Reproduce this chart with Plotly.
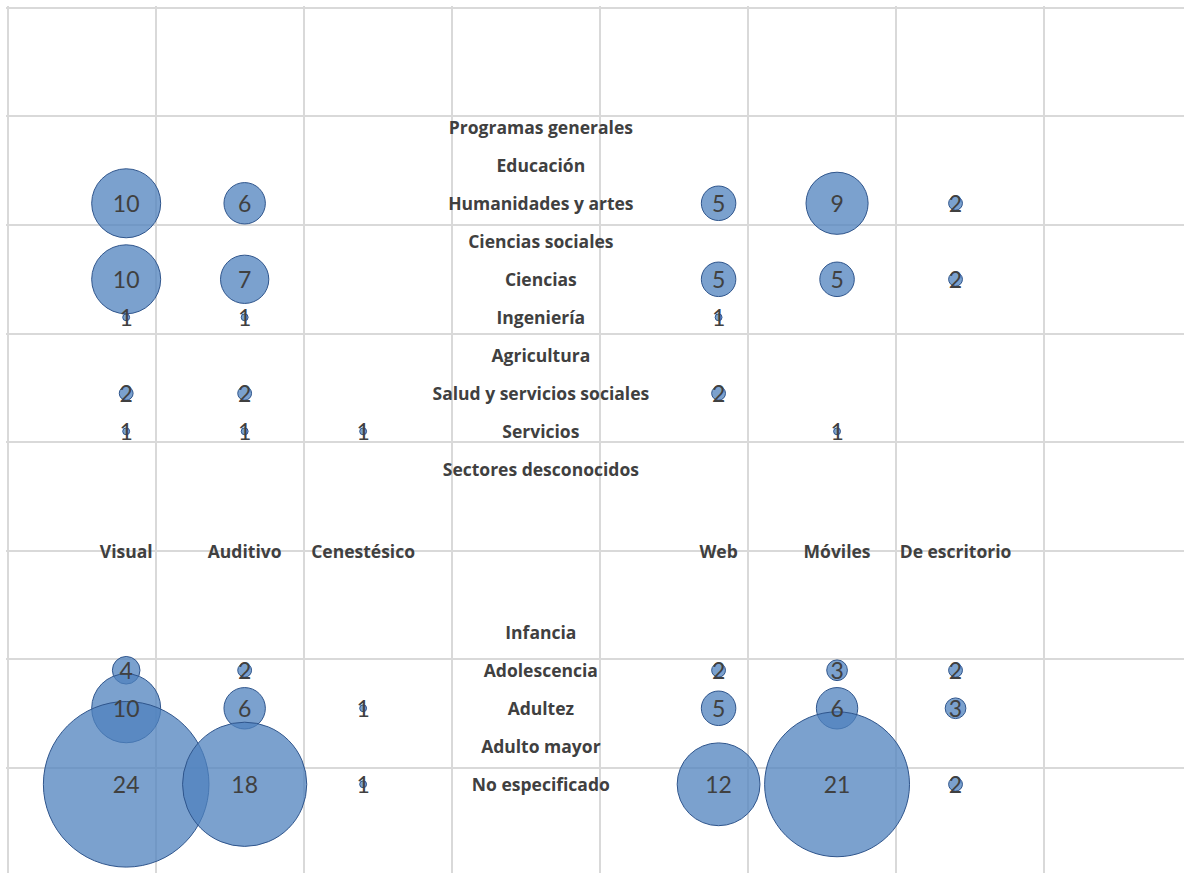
import plotly.graph_objects as go

# Column categories (learning style / platform)
columns = ["Visual", "Auditivo", "Cenestésico", "Web", "Móviles", "De escritorio"]

# Row categories
sectors = [
    "Programas generales", "Educación", "Humanidades y artes", "Ciencias sociales",
    "Ciencias", "Ingeniería", "Agricultura", "Salud y servicios sociales",
    "Servicios", "Sectores desconocidos",
]
ages = ["Infancia", "Adolescencia", "Adultez", "Adulto mayor", "No especificado"]

# Counts per sector, one list per column (0 = no bubble)
visual_sector = [0, 0, 10, 0, 10, 1, 0, 2, 1, 0]
auditivo_sector = [0, 0, 6, 0, 7, 1, 0, 2, 1, 0]
cenestesico_sector = [0, 0, 0, 0, 0, 0, 0, 0, 1, 0]
web_sector = [0, 0, 5, 0, 5, 1, 0, 2, 0, 0]
moviles_sector = [0, 0, 9, 0, 5, 0, 0, 0, 1, 0]
escritorio_sector = [0, 0, 2, 0, 2, 0, 0, 0, 0, 0]

# Counts per age group, one list per column
visual_age = [0, 4, 10, 0, 24]
auditivo_age = [0, 2, 6, 0, 18]
cenestesico_age = [0, 0, 1, 0, 1]
web_age = [0, 2, 5, 0, 12]
moviles_age = [0, 3, 6, 0, 21]
escritorio_age = [0, 2, 3, 0, 2]

sector_counts = [visual_sector, auditivo_sector, cenestesico_sector,
                 web_sector, moviles_sector, escritorio_sector]
age_counts = [visual_age, auditivo_age, cenestesico_age,
              web_age, moviles_age, escritorio_age]

# Layout of the grid in axis units
COL_STEP = 0.8
ROW_STEP = 0.35
SECTOR_TOP = 6.9
AGE_TOP = 2.25
HEADER_Y = 3.0
LABEL_SLOT = 4.5

W, H = 1184, 873
PX_X = 148.1
PX_Y = 108.6
X0_PX, Y8_PX = 7.7, 7.8          # pixel position of x=0 and y=8
TEXT_DROP = 2.5 / PX_Y            # nudge text baseline down a touch


def col_x(i):
    slot = i + 1 if i < 3 else i + 3
    return slot * COL_STEP


sector_y = [SECTOR_TOP - ROW_STEP * k for k in range(len(sectors))]
age_y = [AGE_TOP - ROW_STEP * k for k in range(len(ages))]

bx, by, bv = [], [], []
for ci in range(len(columns)):
    for ri, v in enumerate(sector_counts[ci]):
        if v:
            bx.append(col_x(ci)); by.append(sector_y[ri]); bv.append(v)
    for ri, v in enumerate(age_counts[ci]):
        if v:
            bx.append(col_x(ci)); by.append(age_y[ri]); bv.append(v)

TEXT = "#404040"
NUM_FONT = "Lato, 'Open Sans', sans-serif"
LABEL_FONT = "'Open Sans', Lato, sans-serif"

fig = go.Figure()

# Bubbles (diameter proportional to count)
fig.add_trace(go.Scatter(
    x=bx, y=by, mode="markers",
    marker=dict(
        size=bv, sizemode="diameter", sizeref=1 / 6.9, opacity=1,
        color="rgba(79,129,189,0.75)",
        line=dict(color="rgb(47,85,140)", width=1),
    ),
    hoverinfo="skip", showlegend=False,
))

# Count labels on the bubbles
fig.add_trace(go.Scatter(
    x=bx, y=[y - TEXT_DROP for y in by], mode="text",
    text=[str(v) for v in bv], textposition="middle center",
    textfont=dict(family=NUM_FONT, size=23, color=TEXT),
    hoverinfo="skip", showlegend=False,
))

# Row labels in the middle column
label_x = LABEL_SLOT * COL_STEP
fig.add_trace(go.Scatter(
    x=[label_x] * (len(sectors) + len(ages)),
    y=[y - TEXT_DROP for y in sector_y + age_y],
    text=sectors + ages,
    mode="text", textposition="middle center",
    textfont=dict(family=LABEL_FONT, size=17.5, color=TEXT, weight="bold"),
    hoverinfo="skip", showlegend=False,
))

# Column labels across the middle row
fig.add_trace(go.Scatter(
    x=[col_x(i) for i in range(len(columns))],
    y=[HEADER_Y - TEXT_DROP] * len(columns),
    text=columns,
    mode="text", textposition="middle center",
    textfont=dict(family=LABEL_FONT, size=17.5, color=TEXT, weight="bold"),
    hoverinfo="skip", showlegend=False,
))

left, top = 6, 6
x_start = -(X0_PX - left) / PX_X
y_end = 8 + (Y8_PX - top) / PX_Y
fig.update_layout(
    width=W, height=H,
    margin=dict(l=left, r=0, t=top, b=0),
    paper_bgcolor="white", plot_bgcolor="white",
    xaxis=dict(
        range=[x_start, x_start + (W - left) / PX_X],
        dtick=1, tick0=0, showgrid=True, gridcolor="#d9d9d9", gridwidth=2,
        zeroline=False, showticklabels=False, ticks="", showline=False,
        fixedrange=True,
    ),
    yaxis=dict(
        range=[y_end - (H - top) / PX_Y, y_end],
        dtick=1, tick0=0, showgrid=True, gridcolor="#d9d9d9", gridwidth=2,
        zeroline=False, showticklabels=False, ticks="", showline=False,
        fixedrange=True,
    ),
)

fig.write_html("out.html", config={"displayModeBar": False})
